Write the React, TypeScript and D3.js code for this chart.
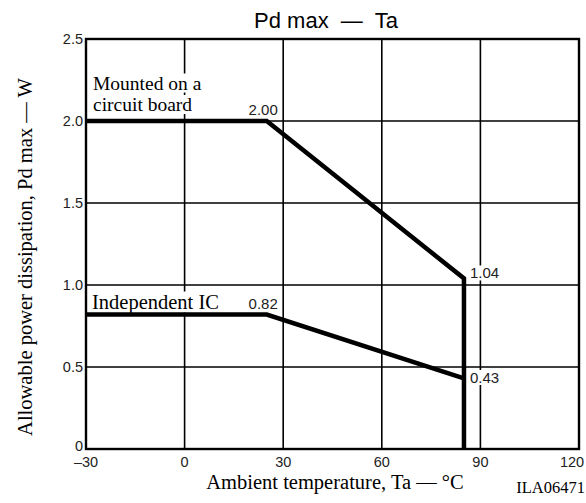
import React, { useEffect, useRef } from "react";
import * as d3 from "d3";

// derating curves
const boardTemp = [-30, 25, 85, 85];
const boardPd = [2.0, 2.0, 1.04, 0];
const icTemp = [-30, 25, 85];
const icPd = [0.82, 0.82, 0.43];

const xTicks = [-30, 0, 30, 60, 90, 120];
const xTickLabels = ["\u201330", "0", "30", "60", "90", "120"];
const yTicks = [0, 0.5, 1.0, 1.5, 2.0, 2.5];
const yTickLabels = ["0", "0.5", "1.0", "1.5", "2.0", "2.5"];

const valueTemp = [25, 85, 25, 85];
const valuePd = [2.0, 1.04, 0.82, 0.43];
const valueText = ["2.00", "1.04", "0.82", "0.43"];

const W = 586;
const H = 503;
const margin = { top: 39, right: 7, bottom: 54, left: 86 };

const App = () => {
  const svgRef = useRef<SVGSVGElement>(null);

  useEffect(() => {
    const svg = d3.select(svgRef.current);
    svg.selectAll("*").remove();

    const x = d3.scaleLinear().domain([-30, 120]).range([margin.left, W - margin.right]);
    const y = d3.scaleLinear().domain([0, 2.5]).range([H - margin.bottom, margin.top]);

    const sans = "'Liberation Sans', Arial, Helvetica, sans-serif";
    const serif = "'Liberation Serif', 'Times New Roman', serif";

    svg.append("rect").attr("width", W).attr("height", H).attr("fill", "#fff");

    // grid
    const grid = svg.append("g").attr("stroke", "#000").attr("stroke-width", 1.6);
    grid
      .selectAll("line.v")
      .data(xTicks.slice(1, -1))
      .enter()
      .append("line")
      .attr("x1", (d) => x(d))
      .attr("x2", (d) => x(d))
      .attr("y1", y(0))
      .attr("y2", y(2.5));
    grid
      .selectAll("line.h")
      .data(yTicks.slice(1, -1))
      .enter()
      .append("line")
      .attr("x1", x(-30))
      .attr("x2", x(120))
      .attr("y1", (d) => y(d))
      .attr("y2", (d) => y(d));

    // frame
    svg
      .append("rect")
      .attr("x", x(-30))
      .attr("y", y(2.5))
      .attr("width", x(120) - x(-30))
      .attr("height", y(0) - y(2.5))
      .attr("fill", "none")
      .attr("stroke", "#000")
      .attr("stroke-width", 2.4);

    // label layer (white boxes get measured after)
    const labels = svg.append("g");

    labels
      .append("text")
      .attr("x", x(-30) + 7)
      .attr("y", y(2.0) - 31.5)
      .attr("font-family", serif)
      .attr("font-size", 19.5)
      .attr("fill", "#000")
      .text("Mounted on a");
    labels
      .append("text")
      .attr("x", x(-30) + 7)
      .attr("y", y(2.0) - 10)
      .attr("font-family", serif)
      .attr("font-size", 19.5)
      .attr("fill", "#000")
      .text("circuit board");

    labels
      .append("text")
      .attr("x", x(-30) + 6)
      .attr("y", y(0.82) - 6)
      .attr("font-family", serif)
      .attr("font-size", 20.5)
      .attr("fill", "#000")
      .text("Independent IC");

    // label offsets from the point they name
    const dx = [11, 6, 11, 6];
    const dy = [-6, 0, -5.5, 4.5];
    valueText.forEach((t, i) => {
      const right = valueTemp[i] > 50;
      labels
        .append("text")
        .attr("x", x(valueTemp[i]) + dx[i])
        .attr("y", y(valuePd[i]) + dy[i])
        .attr("text-anchor", right ? "start" : "end")
        .attr("font-family", sans)
        .attr("font-size", 15)
        .attr("fill", "#222")
        .text(t);
    });

    // white boxes behind labels, so grid lines break around the text
    labels.selectAll<SVGTextElement, unknown>("text").each(function () {
      const b = this.getBBox();
      labels
        .insert("rect", ":first-child")
        .attr("x", b.x - 1)
        .attr("y", b.y + 1)
        .attr("width", b.width + 2)
        .attr("height", b.height - 2)
        .attr("fill", "#fff");
    });

    // curves
    const curve = d3
      .line<[number, number]>()
      .x((d) => x(d[0]))
      .y((d) => y(d[1]));

    svg
      .append("path")
      .attr("d", curve(boardTemp.map((t, i) => [t, boardPd[i]] as [number, number])))
      .attr("fill", "none")
      .attr("stroke", "#000")
      .attr("stroke-width", 4.5)
      .attr("stroke-linejoin", "miter");
    svg
      .append("path")
      .attr("d", curve(icTemp.map((t, i) => [t, icPd[i]] as [number, number])))
      .attr("fill", "none")
      .attr("stroke", "#000")
      .attr("stroke-width", 4.5);

    // tick labels
    svg
      .selectAll("text.xt")
      .data(xTicks)
      .enter()
      .append("text")
      .attr("x", (d) => Math.min(x(d), W - 14))
      .attr("y", y(0) + 18)
      .attr("text-anchor", "middle")
      .attr("font-family", sans)
      .attr("font-size", 14.5)
      .attr("fill", "#222")
      .text((_, i) => xTickLabels[i]);

    svg
      .selectAll("text.yt")
      .data(yTicks)
      .enter()
      .append("text")
      .attr("x", x(-30) - 3)
      .attr("y", (d) => y(d) + (d === 0 ? 1.5 : 5))
      .attr("text-anchor", "end")
      .attr("font-family", sans)
      .attr("font-size", 14.5)
      .attr("fill", "#222")
      .text((_, i) => yTickLabels[i]);

    // title
    svg
      .append("text")
      .attr("x", 326)
      .attr("y", 28)
      .attr("text-anchor", "middle")
      .attr("font-family", sans)
      .attr("font-size", 22)
      .attr("fill", "#000")
      .style("white-space", "pre")
      .text("Pd max  \u2014  Ta");

    // axis titles
    svg
      .append("text")
      .attr("x", 335)
      .attr("y", 489)
      .attr("text-anchor", "middle")
      .attr("font-family", serif)
      .attr("font-size", 20.5)
      .attr("fill", "#000")
      .text("Ambient temperature, Ta \u2014 \u00b0C");

    svg
      .append("text")
      .attr("transform", `translate(32, 257) rotate(-90)`)
      .attr("text-anchor", "middle")
      .attr("font-family", serif)
      .attr("font-size", 20.5)
      .attr("fill", "#000")
      .text("Allowable power dissipation, Pd max \u2014 W");

    svg
      .append("text")
      .attr("x", 585)
      .attr("y", 493)
      .attr("text-anchor", "end")
      .attr("font-family", serif)
      .attr("font-size", 16.5)
      .attr("fill", "#000")
      .text("ILA06471");
  }, []);

  return (
    <svg
      ref={svgRef}
      width={W}
      height={H}
      style={{ position: "absolute", left: 0, top: 0, display: "block" }}
    ></svg>
  );
};

export default App;
